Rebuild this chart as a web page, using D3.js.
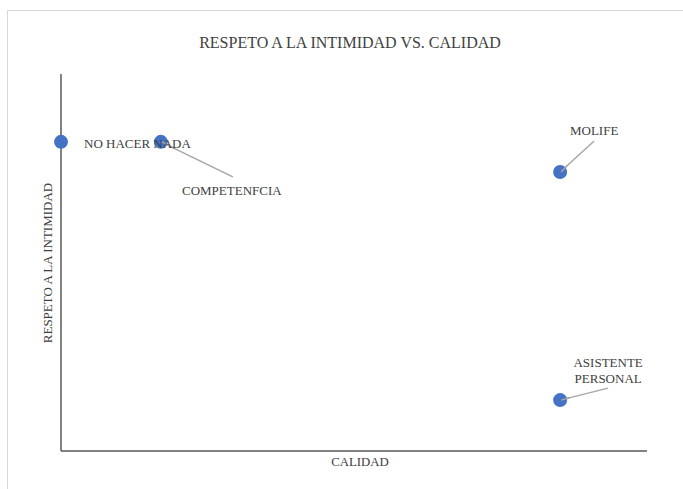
<!DOCTYPE html>
<html>
<head>
<meta charset="utf-8">
<script src="https://cdn.jsdelivr.net/npm/d3@7"></script>
<style>
  body { margin: 0; background: #fff; }
  text { font-family: "Liberation Serif", "Times New Roman", serif; fill: #404040; }
</style>
</head>
<body>
<svg id="chart" width="683" height="489"></svg>
<script>
// values
var names = ["NO HACER NADA", "COMPETENFCIA", "MOLIFE", "ASISTENTE PERSONAL"];
var calidad = [0, 1, 5, 5];
var intimidad = [8.2, 8.2, 7.4, 1.35];
var labelLines = [["NO HACER NADA"], ["COMPETENFCIA"], ["MOLIFE"], ["ASISTENTE", "PERSONAL"]];

var svg = d3.select("#chart");

// outer chart border
svg.append("rect")
    .attr("x", 7.5).attr("y", 10.5)
    .attr("width", 700).attr("height", 500)
    .attr("fill", "none").attr("stroke", "#d9d9d9");

var x = d3.scaleLinear().domain([0, 5.87]).range([61, 647]);
var y = d3.scaleLinear().domain([0, 10]).range([451, 74]);

svg.append("text")
    .attr("x", 350).attr("y", 48)
    .attr("text-anchor", "middle")
    .style("font-size", "16px")
    .text("RESPETO A LA INTIMIDAD VS. CALIDAD");

// axes, no ticks
svg.append("line")
    .attr("x1", x(0)).attr("x2", x(0))
    .attr("y1", y(10)).attr("y2", y(0))
    .attr("stroke", "#595959").attr("stroke-width", 1.5);
svg.append("line")
    .attr("x1", x(0)).attr("x2", x(5.87))
    .attr("y1", y(0)).attr("y2", y(0))
    .attr("stroke", "#595959").attr("stroke-width", 1.5);

svg.append("text")
    .attr("x", 360).attr("y", 466)
    .attr("text-anchor", "middle")
    .style("font-size", "12.8px")
    .text("CALIDAD");

svg.append("text")
    .attr("transform", "translate(52,263) rotate(-90)")
    .attr("text-anchor", "middle")
    .style("font-size", "13px")
    .text("RESPETO A LA INTIMIDAD");

var data = names.map(function(n, i) {
    return { name: n, x: calidad[i], y: intimidad[i], lines: labelLines[i] };
});

// label placement relative to point
var place = {
    "NO HACER NADA": { tx: 23, ty: 6, anchor: "start", leader: null },
    "COMPETENFCIA": { tx: 71, ty: 53, anchor: "middle", leader: [72, 35] },
    "MOLIFE": { tx: 34, ty: -37, anchor: "middle", leader: [34, -31] },
    "ASISTENTE PERSONAL": { tx: 48, ty: -17, anchor: "middle", leader: [48, -12] }
};

svg.selectAll(".leader")
    .data(data.filter(function(d) { return place[d.name].leader; }))
    .enter().append("line")
    .attr("class", "leader")
    .attr("x1", function(d) { return x(d.x); })
    .attr("y1", function(d) { return y(d.y); })
    .attr("x2", function(d) { return x(d.x) + place[d.name].leader[0]; })
    .attr("y2", function(d) { return y(d.y) + place[d.name].leader[1]; })
    .attr("stroke", "#a6a6a6").attr("stroke-width", 1.5);

svg.selectAll(".dot")
    .data(data)
    .enter().append("circle")
    .attr("class", "dot")
    .attr("cx", function(d) { return x(d.x); })
    .attr("cy", function(d) { return y(d.y); })
    .attr("r", 7)
    .attr("fill", "#4472c4");

// leader stubs drawn on top of the dots, as in the original
svg.selectAll(".leader2")
    .data(data.filter(function(d) { return place[d.name].leader; }))
    .enter().append("line")
    .attr("x1", function(d) { return x(d.x) + 1; })
    .attr("y1", function(d) { return y(d.y); })
    .attr("x2", function(d) { return x(d.x) + place[d.name].leader[0] * 0.2; })
    .attr("y2", function(d) { return y(d.y) + place[d.name].leader[1] * 0.2; })
    .attr("stroke", "#a6a6a6").attr("stroke-width", 1.5);

var labels = svg.selectAll(".lbl")
    .data(data)
    .enter().append("text")
    .attr("class", "lbl")
    .attr("text-anchor", function(d) { return place[d.name].anchor; })
    .style("font-size", "13px")
    .attr("x", function(d) { return x(d.x) + place[d.name].tx; })
    .attr("y", function(d) { return y(d.y) + place[d.name].ty - (d.lines.length - 1) * 16; });

labels.selectAll("tspan")
    .data(function(d) { return d.lines.map(function(l) { return { t: l, d: d }; }); })
    .enter().append("tspan")
    .attr("x", function(o) { return x(o.d.x) + place[o.d.name].tx; })
    .attr("dy", function(o, i) { return i ? 16 : 0; })
    .text(function(o) { return o.t; });
</script>
</body>
</html>
